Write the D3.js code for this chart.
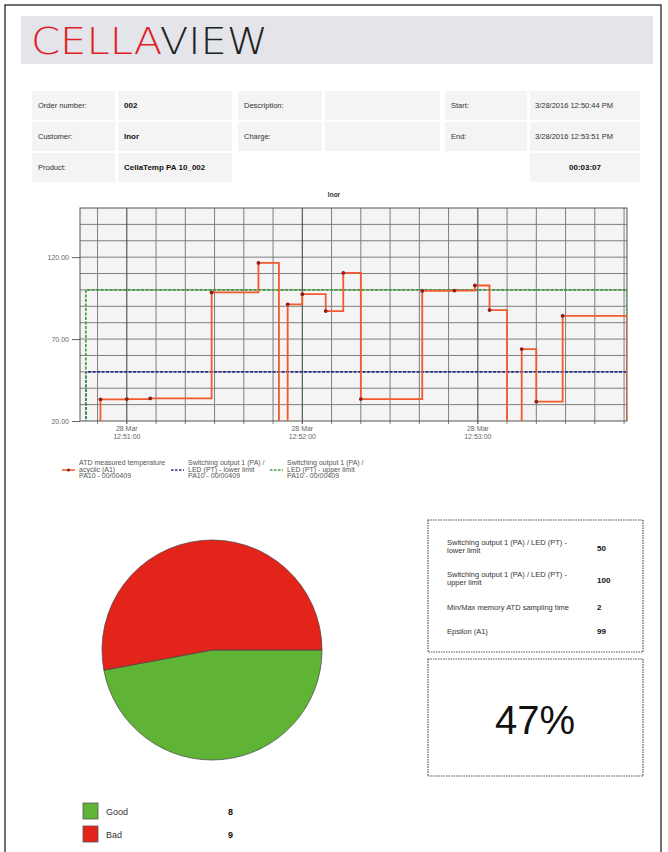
<!DOCTYPE html>
<html>
<head>
<meta charset="utf-8">
<script src="https://cdn.jsdelivr.net/npm/d3@7"></script>
<style>
  body { margin: 0; background: #fff; }
  svg { display: block; font-family: "Liberation Sans", Arial, sans-serif; }
</style>
</head>
<body>
<svg id="page" width="668" height="852"></svg>
<script>
// info table
var infoLabels = [["Order number:", "Description:", "Start:"],
                  ["Customer:", "Charge:", "End:"],
                  ["Product:", null, null]];
var infoValues = [["002", "", "3/28/2016 12:50:44 PM"],
                  ["Inor", "", "3/28/2016 12:53:51 PM"],
                  ["CellaTemp PA 10_002", null, "00:03:07"]];

// measured temperature (step line)
var measTimes = ["12:50:44", "12:50:51", "12:51:00", "12:51:08", "12:51:29", "12:51:45", "12:51:52",
                 "12:51:55", "12:52:00", "12:52:08", "12:52:14", "12:52:20", "12:52:41", "12:52:52",
                 "12:52:59", "12:53:04", "12:53:10", "12:53:15", "12:53:20", "12:53:29", "12:53:51"];
var measValues = [0, 33.2, 33.4, 33.8, 98.5, 116.5, 0,
                  91.2, 97.4, 87.1, 110.4, 33.4, 99.4, 99.6,
                  102.7, 87.7, 0, 63.9, 31.8, 84.2, 0];

// switching output limits
var limitTimes = ["12:50:44", "12:50:46", "12:53:51"];
var lowerValues = [0, 50, 0];
var upperValues = [0, 100, 0];

var yTicks = [20, 70, 120];
var xTickDates = ["28 Mar", "28 Mar", "28 Mar"];
var xTickTimes = ["12:51:00", "12:52:00", "12:53:00"];
var legendLabels = [["ATD measured temperature", "acyclic (A1)", "PA10 - 00/00409"],
                    ["Switching output 1 (PA) /", "LED (PT) - lower limit", "PA10 - 00/00409"],
                    ["Switching output 1 (PA) /", "LED (PT) - upper limit", "PA10 - 00/00409"]];

// parameter box
var paramLabels = [["Switching output 1 (PA) / LED (PT) -", "lower limit"],
                   ["Switching output 1 (PA) / LED (PT) -", "upper limit"],
                   ["Min/Max memory ATD sampling time"],
                   ["Epsilon (A1)"]];
var paramValues = ["50", "100", "2", "99"];

// pie
var pieLabels = ["Good", "Bad"];
var pieValues = [8, 9];

var svg = d3.select("#page");
var parseTime = d3.timeParse("%H:%M:%S");

// page frame + header
svg.append("rect").attr("x", 5).attr("y", 5).attr("width", 656).attr("height", 860)
  .attr("fill", "none").attr("stroke", "#111").attr("stroke-width", 1.2);
svg.append("rect").attr("x", 21).attr("y", 16).attr("width", 632).attr("height", 48).attr("fill", "#e3e5ea");
var logo = svg.append("text").attr("x", 31).attr("y", 54)
  .attr("font-family", "'DejaVu Sans', sans-serif").attr("font-weight", 200)
  .attr("font-size", 37).attr("textLength", 237).attr("lengthAdjust", "spacingAndGlyphs");
logo.append("tspan").attr("fill", "#e11d25").text("CELLA");
logo.append("tspan").attr("fill", "#222").text("VIEW");

// info table
var colX = [[32, 83], [118, 114], [238, 84], [325, 115], [445, 82], [530, 110]];
var rowY = [91, 122, 153];
infoLabels.forEach(function(row, r) {
  row.forEach(function(lab, c) {
    if (lab === null) return;
    var lc = colX[c * 2];
    svg.append("rect").attr("x", lc[0]).attr("y", rowY[r]).attr("width", lc[1]).attr("height", 29).attr("fill", "#f4f4f4");
    svg.append("text").attr("x", lc[0] + 6).attr("y", rowY[r] + 17).attr("font-size", 7.5).attr("fill", "#333").text(lab);
  });
  infoValues[r].forEach(function(val, c) {
    if (val === null) return;
    var vc = colX[c * 2 + 1];
    svg.append("rect").attr("x", vc[0]).attr("y", rowY[r]).attr("width", vc[1]).attr("height", 29).attr("fill", "#f4f4f4");
    var t = svg.append("text").attr("y", rowY[r] + 17).attr("fill", "#111");
    if (r === 2 && c === 2) {
      t.attr("x", vc[0] + vc[1] / 2).attr("text-anchor", "middle").attr("font-weight", "bold").attr("font-size", 8);
    } else if (c === 2) {
      t.attr("x", vc[0] + 5).attr("font-size", 7.5).attr("fill", "#333");
    } else {
      t.attr("x", vc[0] + 6).attr("font-weight", "bold").attr("font-size", 8);
    }
    t.text(val);
  });
});

// line chart
var x = d3.scaleTime().domain([parseTime("12:50:44"), parseTime("12:53:51")]).range([80, 627]);
var y = d3.scaleLinear().domain([20, 150]).range([421, 208]);

svg.append("text").attr("x", 334).attr("y", 197).attr("text-anchor", "middle")
  .attr("font-size", 6.5).attr("font-weight", "bold").attr("fill", "#333").text("Inor");

svg.append("rect").attr("x", 80).attr("y", 208).attr("width", 547).attr("height", 213).attr("fill", "#f4f4f4");
svg.append("clipPath").attr("id", "plotclip").append("rect")
  .attr("x", 80).attr("y", 208).attr("width", 547).attr("height", 213);

// horizontal grid every 10
svg.append("g").selectAll("line").data(d3.range(30, 150, 10)).join("line")
  .attr("x1", 80).attr("x2", 627).attr("y1", function(d) { return y(d); }).attr("y2", function(d) { return y(d); })
  .attr("stroke", "#7e7e7e").attr("stroke-width", 1);
// vertical grid every 10 s
var xGrid = x.ticks(d3.timeSecond.every(10));
svg.append("g").selectAll("line").data(xGrid).join("line")
  .attr("x1", function(d) { return x(d); }).attr("x2", function(d) { return x(d); })
  .attr("y1", 208).attr("y2", 424)
  .attr("stroke", function(d) { return d.getSeconds() === 0 ? "#4a4a4a" : "#7e7e7e"; })
  .attr("stroke-width", function(d) { return d.getSeconds() === 0 ? 1.1 : 1; });

// y axis
var yAxis = svg.append("g").attr("transform", "translate(80,0)")
  .call(d3.axisLeft(y).tickValues(yTicks).tickSize(8).tickFormat(d3.format(".2f")));
yAxis.select(".domain").remove();
yAxis.selectAll("line").attr("stroke", "#666");
yAxis.selectAll("text").attr("font-size", 7).attr("fill", "#666").attr("font-family", "Liberation Sans, Arial, sans-serif");

// x axis labels
var xTicks = xTickTimes.map(parseTime);
var xl = svg.append("g").selectAll("text").data(xTicks).join("text")
  .attr("x", function(d) { return x(d); }).attr("text-anchor", "middle")
  .attr("font-size", 7).attr("fill", "#666");
xl.append("tspan").attr("x", function(d) { return x(d); }).attr("y", 431).text(function(d, i) { return xTickDates[i]; });
xl.append("tspan").attr("x", function(d) { return x(d); }).attr("y", 438.5).text(function(d, i) { return xTickTimes[i]; });

svg.append("rect").attr("x", 80).attr("y", 208).attr("width", 547).attr("height", 213)
  .attr("fill", "none").attr("stroke", "#555").attr("stroke-width", 1);

var plot = svg.append("g").attr("clip-path", "url(#plotclip)");
var line = d3.line().curve(d3.curveStepAfter)
  .x(function(d) { return x(d.t); }).y(function(d) { return y(d.v); });

function series(times, values) {
  return times.map(function(t, i) { return {t: parseTime(t), v: values[i]}; });
}
var upper = series(limitTimes, upperValues);
var lower = series(limitTimes, lowerValues);
var meas = series(measTimes, measValues);

plot.append("path").datum(lower).attr("d", line).attr("fill", "none")
  .attr("stroke", "#2b2f8f").attr("stroke-width", 1.6).attr("stroke-dasharray", "3,1.5");
plot.append("path").datum(upper).attr("d", line).attr("fill", "none")
  .attr("stroke", "#3d9a3a").attr("stroke-width", 1.6).attr("stroke-dasharray", "3,1.5");
plot.append("path").datum(meas).attr("d", line).attr("fill", "none")
  .attr("stroke", "#f25a2c").attr("stroke-width", 1.8);
plot.selectAll("circle").data(meas).join("circle")
  .attr("cx", function(d) { return x(d.t); }).attr("cy", function(d) { return y(d.v); })
  .attr("r", 1.9).attr("fill", "#8e1d1d");

// legend
var legX = [62, 171, 270];
var legColors = ["#f25a2c", "#2b2f8f", "#3d9a3a"];
legendLabels.forEach(function(lines, i) {
  var g = svg.append("g").attr("transform", "translate(" + legX[i] + ",0)");
  g.append("line").attr("x1", 0).attr("x2", 13).attr("y1", 470).attr("y2", 470)
    .attr("stroke", legColors[i]).attr("stroke-width", i === 0 ? 1.5 : 1.3)
    .attr("stroke-dasharray", i === 0 ? null : "2.5,1.5");
  if (i === 0) g.append("circle").attr("cx", 6.5).attr("cy", 470).attr("r", 1.6).attr("fill", "#8e1d1d");
  var t = g.append("text").attr("font-size", 7).attr("fill", "#555");
  lines.forEach(function(s, k) {
    t.append("tspan").attr("x", 17).attr("y", 465 + k * 6.5).text(s);
  });
});

// parameter box
svg.append("rect").attr("x", 428).attr("y", 520).attr("width", 215).attr("height", 132)
  .attr("fill", "none").attr("stroke", "#555").attr("stroke-width", 1.2).attr("stroke-dasharray", "1.5,1");
var paramY = [545, 577, 610, 634];
paramLabels.forEach(function(lines, i) {
  var t = svg.append("text").attr("font-size", 7.5).attr("fill", "#333");
  lines.forEach(function(s, k) {
    t.append("tspan").attr("x", 447).attr("y", paramY[i] + k * 7.5).text(s);
  });
  svg.append("text").attr("x", 597).attr("y", paramY[i] + (lines.length > 1 ? 6 : 0))
    .attr("font-size", 8).attr("font-weight", "bold").attr("fill", "#111").text(paramValues[i]);
});

// percentage box
var goodPct = Math.round(100 * pieValues[0] / d3.sum(pieValues));
svg.append("rect").attr("x", 428).attr("y", 659).attr("width", 215).attr("height", 117)
  .attr("fill", "none").attr("stroke", "#555").attr("stroke-width", 1.2).attr("stroke-dasharray", "1.5,1");
svg.append("text").attr("x", 535).attr("y", 734).attr("text-anchor", "middle")
  .attr("font-size", 40).attr("fill", "#111").text(goodPct + "%");

// pie
var pieColor = d3.scaleOrdinal().domain(pieLabels).range(["#5fb436", "#e3241b"]);
var pie = d3.pie().sort(null).startAngle(Math.PI / 2).endAngle(Math.PI / 2 + 2 * Math.PI);
var arc = d3.arc().innerRadius(0).outerRadius(110);
svg.append("g").attr("transform", "translate(212,650)")
  .selectAll("path").data(pie(pieValues)).join("path")
  .attr("d", arc).attr("fill", function(d, i) { return pieColor(pieLabels[i]); })
  .attr("stroke", "#444").attr("stroke-width", 0.7);

// pie legend
var pl = svg.append("g").selectAll("g").data(pieLabels).join("g")
  .attr("transform", function(d, i) { return "translate(83," + (803 + i * 23) + ")"; });
pl.append("rect").attr("width", 15).attr("height", 16).attr("fill", function(d) { return pieColor(d); })
  .attr("stroke", "#555").attr("stroke-width", 0.8);
pl.append("text").attr("x", 23).attr("y", 12).attr("font-size", 9).attr("fill", "#333").text(function(d) { return d; });
pl.append("text").attr("x", 145).attr("y", 12).attr("font-size", 9).attr("font-weight", "bold").attr("fill", "#111")
  .text(function(d, i) { return pieValues[i]; });
</script>
</body>
</html>
